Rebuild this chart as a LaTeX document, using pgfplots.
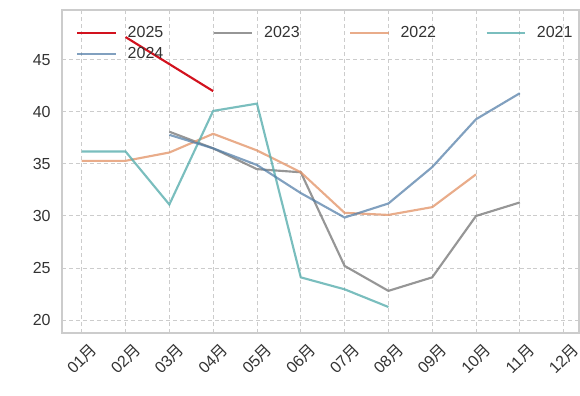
\documentclass[border=0pt]{standalone}
\usepackage{fontspec}
\setmainfont{Liberation Sans}
\newfontfamily\cjk{Noto Sans CJK SC}
\usepackage{pgfplots}
\pgfplotsset{compat=1.18}
\definecolor{c25}{RGB}{210,18,30}
\definecolor{c24}{RGB}{80,124,166}
\definecolor{c23}{RGB}{124,124,124}
\definecolor{c22}{RGB}{227,151,109}
\definecolor{c21}{RGB}{89,174,174}
\definecolor{txt}{RGB}{51,51,51}
\definecolor{gridc}{RGB}{204,204,204}
\begin{document}
\begin{tikzpicture}
\begin{axis}[
  scale only axis,
  width=387.75pt, height=242.25pt,
  xmin=0.55, xmax=12.35,
  ymin=18.75, ymax=49.8,
  xtick={1,...,12},
  xticklabels={01{\cjk 月},02{\cjk 月},03{\cjk 月},04{\cjk 月},05{\cjk 月},06{\cjk 月},07{\cjk 月},08{\cjk 月},09{\cjk 月},10{\cjk 月},11{\cjk 月},12{\cjk 月}},
  ytick={20,25,30,35,40,45},
  /pgf/number format/assume math mode=true,
  tick style={draw=none},
  ticklabel style={font=\fontsize{12}{14}\selectfont, text=txt},
  xticklabel style={anchor=center, yshift=-19.5pt, rotate=45},
  yticklabel style={xshift=-5pt},
  axis line style={draw=gridc, line width=0.9pt},
  grid=major,
  major grid style={draw=gridc, dash pattern=on 3pt off 2.2pt, line width=0.7pt},
  legend columns=4,
  legend style={at={(rel axis cs:0,1)}, anchor=north west, xshift=10.5pt, yshift=-10pt,
    draw=none, fill=none, inner sep=0pt, row sep=2pt,
    font=\fontsize{12}{14}\selectfont, text=txt,
    /tikz/every odd column/.style={column sep=6pt},
    /tikz/every even column/.style={column sep=35pt}},
  legend cell align=left,
  legend image code/.code={\draw[#1] (0pt,0pt) -- (29pt,0pt);},
  every axis plot/.append style={line width=1.6pt},
]
\addplot[c25, line join=round] coordinates {(2,47.2) (3,44.6) (4,42.0)};
\addlegendentry{2025}
\addplot[c23, opacity=0.8] coordinates {(3,38.1) (4,36.5) (5,34.5) (6,34.2) (7,25.2) (8,22.8) (9,24.1) (10,30.0) (11,31.3)};
\addlegendentry{2023}
\addplot[c22, opacity=0.8] coordinates {(1,35.3) (2,35.3) (3,36.1) (4,37.9) (5,36.3) (6,34.2) (7,30.3) (8,30.1) (9,30.85) (10,34.0)};
\addlegendentry{2022}
\addplot[c21, opacity=0.8] coordinates {(1,36.2) (2,36.2) (3,31.1) (4,40.1) (5,40.8) (6,24.1) (7,22.95) (8,21.25)};
\addlegendentry{2021}
\addplot[c24, opacity=0.72] coordinates {(3,37.8) (4,36.5) (5,34.9) (6,32.2) (7,29.85) (8,31.2) (9,34.7) (10,39.3) (11,41.8)};
\addlegendentry{2024}
\end{axis}
\pgfresetboundingbox
\path[use as bounding box] ([xshift=-46.5pt,yshift=-47.25pt]current axis.south west) rectangle ([xshift=0.75pt,yshift=7.5pt]current axis.north east);
\end{tikzpicture}
\end{document}
